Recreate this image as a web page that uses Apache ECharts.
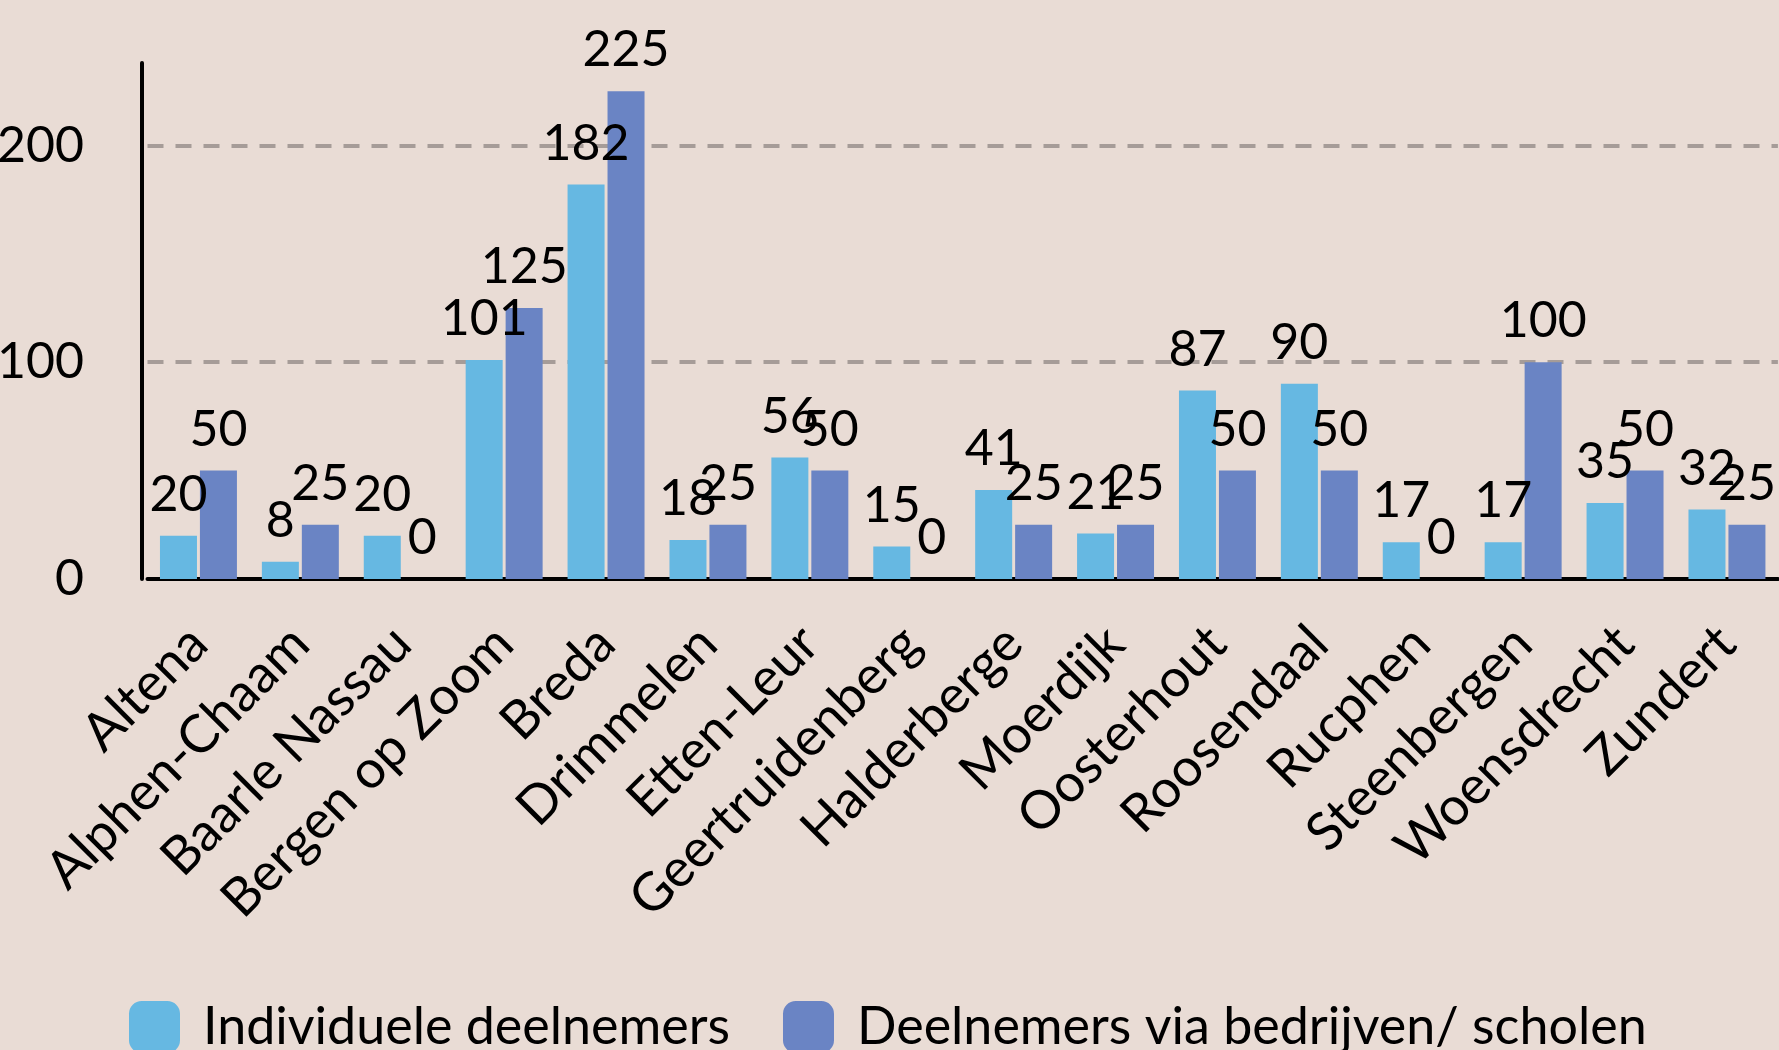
<!DOCTYPE html>
<html>
<head>
<meta charset="utf-8">
<script src="https://cdn.jsdelivr.net/npm/echarts@6/dist/echarts.min.js"></script>
<style>
  html, body { margin: 0; padding: 0; background: #E9DCD5; }
  #chart { width: 1779px; height: 1050px; }
</style>
</head>
<body>
<div id="chart"></div>
<script>
const categories = [
    'Altena', 'Alphen-Chaam', 'Baarle Nassau', 'Bergen op Zoom', 'Breda',
    'Drimmelen', 'Etten-Leur', 'Geertruidenberg', 'Halderberge', 'Moerdijk',
    'Oosterhout', 'Roosendaal', 'Rucphen', 'Steenbergen', 'Woensdrecht', 'Zundert'
];
const individueel = [20, 8, 20, 101, 182, 18, 56, 15, 41, 21, 87, 90, 17, 17, 35, 32];
const viaBedrijven = [50, 25, 0, 125, 225, 25, 50, 0, 25, 25, 50, 50, 0, 100, 50, 25];
const seriesNames = ['Individuele deelnemers', 'Deelnemers via bedrijven/ scholen'];
const yTicks = [0, 100, 200];

const font = 'Lato';
const chart = echarts.init(document.getElementById('chart'));

const barLabel = {
    show: true,
    position: 'top',
    distance: 16,
    color: '#000',
    fontFamily: font,
    fontSize: 50
};

chart.setOption({
    backgroundColor: '#E9DCD5',
    animation: false,
    textStyle: { fontFamily: font },
    grid: {
        left: 147.5, top: 63, width: 1630.4, height: 516,
        containLabel: false,
        outerBoundsMode: 'none'
    },
    legend: {
        left: 124,
        top: 994,
        itemWidth: 51,
        itemHeight: 52,
        itemGap: 53,
        icon: 'roundRect',
        textStyle: {
            fontFamily: font, fontSize: 52, lineHeight: 52, color: '#000',
            padding: [4, 0, 0, 18]
        },
        data: seriesNames
    },
    xAxis: {
        type: 'category',
        data: categories,
        axisTick: { show: false },
        axisLine: { lineStyle: { color: '#000', width: 4 } },
        axisLabel: {
            rotate: 45,
            interval: 0,
            margin: 56,
            padding: [48, 0, 0, 0],
            color: '#000',
            fontFamily: font,
            fontSize: 53
        }
    },
    yAxis: {
        type: 'value',
        position: 'left',
        min: yTicks[0],
        max: 238,
        interval: yTicks[1] - yTicks[0],
        offset: 5.5,
        axisLine: { show: true, lineStyle: { color: '#000', width: 4 } },
        axisTick: { show: false },
        axisLabel: {
            margin: 58,
            showMaxLabel: false,
            color: '#000',
            fontFamily: font,
            fontSize: 50
        },
        splitLine: {
            show: true,
            showMinLine: false,
            showMaxLine: false,
            lineStyle: { color: '#A69C98', width: 4, type: [16, 12] }
        }
    },
    series: [
        {
            name: seriesNames[0],
            type: 'bar',
            data: individueel,
            barWidth: 37,
            barGap: '8%',
            itemStyle: { color: '#66B8E2' },
            label: barLabel
        },
        {
            name: seriesNames[1],
            type: 'bar',
            data: viaBedrijven,
            barWidth: 37,
            itemStyle: { color: '#6A84C4' },
            label: barLabel
        }
    ]
});
</script>
</body>
</html>
